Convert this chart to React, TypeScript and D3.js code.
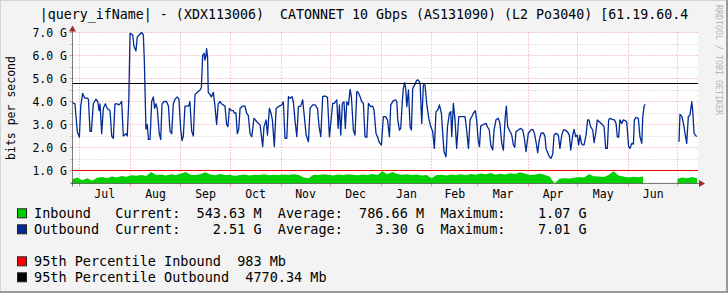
import React, { useEffect } from "react";
import * as d3 from "d3";

const TITLE = "|query_ifName| - (XDX113006)  CATONNET 10 Gbps (AS131090) (L2 Po3040) [61.19.60.4";
const WATERMARK = "RRDTOOL / TOBI OETIKER";
const Y_LABEL = "bits per second";

const START = new Date(2022, 5, 26, 20);
const END = new Date(2023, 6, 13, 8);
const Y_MIN = 0.435;
const Y_MAX = 7.0;

const monthStarts = [
  new Date(2022, 6, 1), new Date(2022, 7, 1), new Date(2022, 8, 1), new Date(2022, 9, 1),
  new Date(2022, 10, 1), new Date(2022, 11, 1), new Date(2023, 0, 1), new Date(2023, 1, 1),
  new Date(2023, 2, 1), new Date(2023, 3, 1), new Date(2023, 4, 1), new Date(2023, 5, 1),
  new Date(2023, 6, 1),
];
const monthLabels = ["Jul", "Aug", "Sep", "Oct", "Nov", "Dec", "Jan", "Feb", "Mar", "Apr", "May", "Jun"];
const yMajorTicks = [1, 2, 3, 4, 5, 6, 7];
const yMinorTicks = [0.5, 1.5, 2.5, 3.5, 4.5, 5.5, 6.5];

// Outbound (Gbps): [day since START, value]
const outboundSamples: [number, number | null][] = [
  [0.1,3.95],[1.5,3.9],[2.9,2.7],[4.2,2.45],[5.0,3.8],[6.2,4.35],[7.4,4.15],[9.0,4.15],[9.7,4.1],[10.7,2.7],[11.5,2.7],[12.7,3.9],[14.3,4.1],[15.4,4.0],[16.2,3.6],[16.8,3.9],[17.8,2.6],[18.8,3.7],[20.0,3.9],[21.2,3.7],[22.9,3.6],[23.9,2.5],[24.9,2.4],[25.9,3.9],[27.3,3.9],[28.2,3.85],[29.0,3.9],[30.0,4.0],[31.0,2.5],[32.6,2.6],[33.4,2.5],[34.3,4.0],[35.1,6.96],[36.7,6.9],[37.5,6.4],[38.7,6.2],[39.5,6.8],[40.8,6.9],[42.2,7.0],[43.2,6.9],[43.8,5.8],[44.8,2.8],[45.6,3.0],[46.3,2.35],[47.3,2.35],[48.3,4.0],[49.3,4.2],[50.1,3.7],[50.9,3.9],[51.7,3.7],[52.9,2.6],[53.8,2.35],[54.6,3.9],[55.8,4.0],[57.4,4.0],[58.5,3.8],[59.5,2.7],[60.5,2.6],[61.5,3.9],[62.5,4.1],[63.9,4.2],[64.9,4.1],[66.0,2.8],[66.8,2.3],[67.6,2.5],[68.6,3.8],[69.6,3.8],[70.8,3.8],[71.6,4.0],[72.7,2.7],[73.7,2.5],[74.7,4.3],[76.1,4.4],[77.8,4.5],[78.6,4.6],[79.4,6.0],[80.2,6.1],[80.8,5.8],[81.4,6.0],[81.8,6.3],[82.4,5.9],[82.8,4.4],[83.9,4.3],[84.7,4.2],[85.9,4.4],[86.9,3.8],[87.9,3.0],[88.9,3.9],[89.9,4.0],[90.9,3.9],[93.0,3.8],[94.0,3.0],[94.8,2.9],[95.7,3.7],[97.1,3.6],[98.1,3.6],[98.7,3.5],[99.7,3.5],[100.5,2.6],[101.4,2.8],[102.2,3.7],[103.8,3.8],[105.2,3.8],[106.2,3.5],[107.2,3.4],[108.3,2.6],
  [109.3,2.47],[110.7,3.27],[112.4,3.12],[113.4,3.05],[114.4,2.98],[116.0,2.04],[116.8,2.91],[118.1,3.2],[118.9,2.54],[120.1,3.7],[121.1,3.49],[121.9,3.2],[123.1,2.04],[124.2,3.7],[125.6,3.78],[127.6,3.85],[128.6,3.99],[129.6,2.4],[130.7,2.4],[131.7,4.21],[132.7,4.14],[133.9,4.21],[134.7,3.99],[135.7,3.2],[136.8,2.47],[137.8,3.78],[139.2,3.8],[140.4,4.07],[141.2,3.49],[142.5,2.54],[143.9,2.25],[144.9,3.7],[146.5,3.85],[147.9,3.85],[149.4,3.7],[150.4,2.91],[151.4,2.47],[152.6,4.21],[154.0,4.24],[155.5,4.18],[156.7,2.47],[158.7,3.92],[159.7,3.92],[161.2,4.07],[162.0,2.83],[162.8,3.85],[163.6,2.54],[164.6,3.92],[165.6,3.99],[166.4,2.83],[167.3,3.99],[168.3,3.85],[169.3,4.53],[170.1,4.21],[171.3,2.76],[172.3,2.54],[173.4,4.43],[174.4,4.38],[175.4,4.21],[176.4,3.99],[177.4,3.92],[178.4,2.47],[179.5,2.44],[180.5,3.92],[181.9,3.78],[183.1,3.8],[183.9,3.63],[185.1,2.62],[186.0,2.47],[187.2,2.21],[188.4,2.11],[189.6,3.34],[191.0,3.34],[192.1,3.2],[193.3,2.47],[194.1,3.85],[195.7,4.04],[197.0,4.07],[197.8,3.99],[198.4,3.2],[199.4,2.76],[200.2,2.83],[201.2,4.07],[201.8,4.57],[202.6,4.82],[203.2,4.57],[203.9,3.78],[204.9,4.5],[205.9,2.91],[206.7,2.76],[207.5,4.57],[208.7,4.72],[210.0,4.93],[211.0,4.93],[212.0,4.79],[213.0,3.05],[214.0,4.72],[215.0,4.72],[216.0,3.92],[217.3,3.27],[218.5,2.91],[219.7,2.69],[220.7,1.96],[221.7,3.56],[222.8,3.63],[223.8,3.85],[225.0,3.49],[225.8,2.62],[226.6,1.82],[227.8,1.6],[228.7,2.91],[229.9,3.49],[230.7,3.56],[231.3,2.47],[232.3,3.92],[233.3,3.2],[234.3,1.96],[235.6,3.34],[236.8,3.34],[238.0,3.34],[239.4,3.34],[240.4,2.76],[241.5,1.96],[242.5,3.2],[243.5,3.34],[244.5,3.49],[245.7,3.6],[246.5,3.2],[247.4,2.33],[248.2,2.04],[249.0,2.93],[250.5,3.0],
  [252.2,3.05],[253.0,2.91],[254.2,2.76],[255.1,2.11],[256.3,1.89],[257.1,2.76],[258.3,3.2],[259.7,3.27],[260.7,3.05],[261.8,2.18],[262.8,1.89],[263.8,3.2],[264.6,3.8],[265.4,2.91],[266.4,2.76],[267.9,2.54],[268.9,2.11],[269.7,2.01],[270.5,2.69],[271.9,2.76],[273.4,2.83],[274.6,2.76],[275.6,2.4],[276.6,1.82],[278.0,2.62],[279.5,2.76],[280.7,2.79],[281.7,2.62],[282.7,2.25],[283.7,1.78],[284.7,2.33],[285.8,2.62],[287.2,2.64],[288.2,2.47],[288.8,1.96],[289.8,1.78],[290.8,1.6],[291.9,1.53],[292.9,1.72],[293.7,2.54],[294.9,2.62],[296.3,2.54],[297.3,1.96],[298.4,2.54],[299.4,2.76],[300.4,2.76],[301.8,2.69],[303.0,2.54],[303.9,1.89],[305.1,2.54],[305.9,2.79],[306.9,2.47],[307.9,2.54],[308.7,2.11],[309.5,2.54],[310.4,2.18],[311.2,2.11],[312.0,2.11],[313.2,2.54],[314.2,3.2],[315.0,3.2],[316.0,2.91],[317.3,2.76],[318.1,2.21],[319.1,2.62],[320.1,3.2],[321.3,3.12],[322.8,3.02],[324.2,2.91],[325.2,1.96],[326.2,1.96],[327.0,3.2],[327.8,3.27],[329.1,3.22],[330.5,3.2],[331.5,3.05],[332.3,2.47],[333.1,2.44],[333.9,3.2],[335.0,3.05],[336.0,3.2],[337.0,3.17],[338.0,3.12],[339.2,2.04],[340.0,1.96],[341.1,2.18],[342.1,2.15],[342.7,3.2],[343.7,3.31],[345.1,3.27],[346.1,2.47],[347.2,2.18],[347.8,3.34],[348.6,3.78],[349.2,3.88],
  [359,null],
  [369.9,2.25],[370.5,3.44],[371.7,3.34],[372.6,3.05],[373.6,2.62],[374.6,2.18],[375.6,3.34],[376.6,3.41],[377.7,3.99],[378.3,3.56],[379.1,2.62],[379.9,2.54],[380.7,2.47],
];

// Inbound (Gbps), one sample every 3 days from START
const inboundStepDays = 3;
const inboundValues: (number | null)[] = [
  0.62,0.70,0.58,0.66,0.55,0.68,0.72,0.66,0.74,0.70,
  0.76,0.73,0.79,0.77,0.80,0.76,0.93,0.80,0.83,0.78,
  0.84,0.80,0.86,0.93,0.82,0.80,0.84,0.92,0.83,0.79,
  0.85,0.80,0.82,0.76,0.80,0.83,0.78,0.82,0.80,0.84,
  0.79,0.82,0.80,0.83,0.81,0.84,0.80,0.70,0.66,0.82,
  0.80,0.84,0.82,0.78,0.83,0.80,0.84,0.82,0.79,0.83,
  0.80,0.85,0.81,0.97,0.84,0.94,0.85,0.82,0.84,0.80,
  0.83,0.78,0.81,0.66,0.80,0.82,0.78,0.83,0.80,0.84,
  0.79,0.85,0.82,0.87,0.84,0.89,0.82,0.86,0.83,0.88,
  0.85,0.92,0.86,0.80,0.82,0.87,0.80,0.74,0.44,0.64,
  0.66,0.65,0.68,0.72,0.70,0.84,0.75,0.74,0.72,0.80,
  0.97,0.78,0.74,0.70,0.73,0.71,0.74,null,null,null,
  null,null,null,0.64,0.70,0.66,0.72,0.65,
];

const pct95Inbound = 0.983;
const pct95Outbound = 4.77034;

const legendMain = [
  { color: "#00CF00", text: "Inbound   Current:  543.63 M  Average:  786.66 M  Maximum:    1.07 G" },
  { color: "#002A97", text: "Outbound  Current:    2.51 G  Average:    3.30 G  Maximum:    7.01 G" },
];
const legendPct = [
  { color: "#FF0000", text: "95th Percentile Inbound  983 Mb" },
  { color: "#000000", text: "95th Percentile Outbound  4770.34 Mb" },
];

const MONO = "'DejaVu Sans Mono', 'Liberation Mono', monospace";

export default function App() {
  useEffect(() => {
    document.body.style.margin = "0";
  }, []);

  const W = 728, H = 293;
  const left = 72.5, right = 698, top = 32.5, bottom = 183.5;
  const x = d3.scaleTime().domain([START, END]).range([left, right]);
  const y = d3.scaleLinear().domain([Y_MIN, Y_MAX]).range([bottom, top]);
  const dayMs = 86400000;
  const toDate = (d: number) => new Date(START.getTime() + d * dayMs);
  const crisp = (v: number) => Math.round(v - 0.5) + 0.5;

  type P = { t: Date; v: number | null };
  const outPts: P[] = outboundSamples.map(([d, v]) => ({ t: toDate(d), v }));
  const inPts: P[] = inboundValues.map((v, i) => ({ t: toDate(i * inboundStepDays), v }));

  const line = d3.line<P>().defined((p) => p.v != null).x((p) => x(p.t)).y((p) => y(p.v as number));
  const area = d3.area<P>().defined((p) => p.v != null).x((p) => x(p.t)).y0(bottom).y1((p) => y(p.v as number));

  const monthMid = monthLabels.map((_, i) => new Date((monthStarts[i].getTime() + monthStarts[i + 1].getTime()) / 2));

  const rowY = [213.3, 229.3, 261.3, 277.3];

  return (
    <svg width={W} height={H} style={{ display: "block", position: "absolute", left: 0, top: 0 }} xmlns="http://www.w3.org/2000/svg">
      <defs>
        <clipPath id="plotClip">
          <rect x={left} y={top - 1} width={right - left} height={bottom - top + 1} />
        </clipPath>
      </defs>
      <rect x={0} y={0} width={W} height={H} fill="#f3f3f3" />
      {/* frame */}
      <line x1={0} y1={0.5} x2={W} y2={0.5} stroke="#d4d4d4" />
      <line x1={0.5} y1={0} x2={0.5} y2={H} stroke="#d4d4d4" />
      <line x1={W - 1} y1={0} x2={W - 1} y2={H} stroke="#9a9a9a" strokeWidth={2} />
      <line x1={0} y1={H - 1} x2={W} y2={H - 1} stroke="#9a9a9a" strokeWidth={2} />

      {/* title */}
      <text x={364} y={19} textAnchor="middle" fontFamily={MONO} fontSize={13.3} fill="#000" style={{ whiteSpace: "pre" }}>
        {TITLE}
      </text>

      {/* watermark */}
      <text transform="translate(715.5,5) rotate(90)" fontFamily={MONO} fontSize={8.3} fill="#b4b4b4" style={{ whiteSpace: "pre" }}>
        {WATERMARK}
      </text>

      {/* canvas */}
      <rect x={left} y={top} width={right - left} height={bottom - top} fill="#ffffff" />

      {/* grid */}
      {yMinorTicks.map((v) => (
        <g key={"mn" + v}>
          <line x1={left} x2={right} y1={crisp(y(v))} y2={crisp(y(v))} stroke="#cccccc" strokeDasharray="1 2" />
          <line x1={left - 3} x2={left} y1={crisp(y(v))} y2={crisp(y(v))} stroke="#c8c8c8" />
        </g>
      ))}
      {yMajorTicks.map((v) => (
        <g key={"mj" + v}>
          <line x1={left} x2={right} y1={crisp(y(v))} y2={crisp(y(v))} stroke="#e89a9a" strokeDasharray="1 2" />
          <line x1={left - 3} x2={left} y1={crisp(y(v))} y2={crisp(y(v))} stroke="#e89a9a" />
        </g>
      ))}
      {monthStarts.map((m, i) => (
        <g key={"vx" + i}>
          <line x1={crisp(x(m))} x2={crisp(x(m))} y1={top} y2={bottom} stroke="#e89a9a" strokeDasharray="1 2" />
          <line x1={crisp(x(m))} x2={crisp(x(m))} y1={bottom} y2={bottom + 3} stroke="#e89a9a" />
        </g>
      ))}

      {/* data */}
      <g clipPath="url(#plotClip)">
        <path d={area(inPts) || ""} fill="#00CF00" />
        <path d={line(outPts) || ""} fill="none" stroke="#002A97" strokeWidth={1.3} strokeLinejoin="round" />
      </g>

      {/* percentile rules */}
      <line x1={left} x2={right} y1={crisp(y(pct95Inbound))} y2={crisp(y(pct95Inbound))} stroke="#FF0000" />
      <line x1={left} x2={right} y1={crisp(y(pct95Outbound))} y2={crisp(y(pct95Outbound))} stroke="#000000" />

      {/* axes */}
      <line x1={left - 2} x2={right + 3} y1={bottom} y2={bottom} stroke="#000" strokeOpacity={0.5} />
      <line x1={left} x2={left} y1={bottom + 3} y2={top - 3} stroke="#000" strokeOpacity={0.5} />
      <path d={`M${right + 7},${bottom} L${right + 1},${bottom - 3.5} L${right + 1},${bottom + 3.5} Z`} fill="#a52a2a" />
      <path d={`M${left},${top - 7} L${left - 3.5},${top - 1} L${left + 3.5},${top - 1} Z`} fill="#a52a2a" />

      {/* y labels */}
      {yMajorTicks.map((v) => (
        <text key={"yl" + v} x={67} y={y(v)} dy="0.35em" textAnchor="end" fontFamily={MONO} fontSize={11.5} fill="#000" style={{ whiteSpace: "pre" }}>
          {`${v.toFixed(1)} G`}
        </text>
      ))}
      <text transform={`translate(15,${(top + bottom) / 2}) rotate(-90)`} textAnchor="middle" fontFamily={MONO} fontSize={11.5} fill="#000">
        {Y_LABEL}
      </text>

      {/* x labels */}
      {monthLabels.map((lab, i) => (
        <text key={"xl" + i} x={x(monthMid[i])} y={197.5} textAnchor="middle" fontFamily={MONO} fontSize={11.5} fill="#000">
          {lab}
        </text>
      ))}

      {/* legend */}
      {[...legendMain, ...legendPct].map((row, i) => (
        <g key={"lg" + i}>
          <rect x={17.5} y={rowY[i] - 4.5} width={9} height={9} fill={row.color} stroke="#222" strokeWidth={1} />
          <text x={34} y={rowY[i]} dy="0.36em" fontFamily={MONO} fontSize={13.5} fill="#000" style={{ whiteSpace: "pre" }}>
            {row.text}
          </text>
        </g>
      ))}
    </svg>
  );
}
